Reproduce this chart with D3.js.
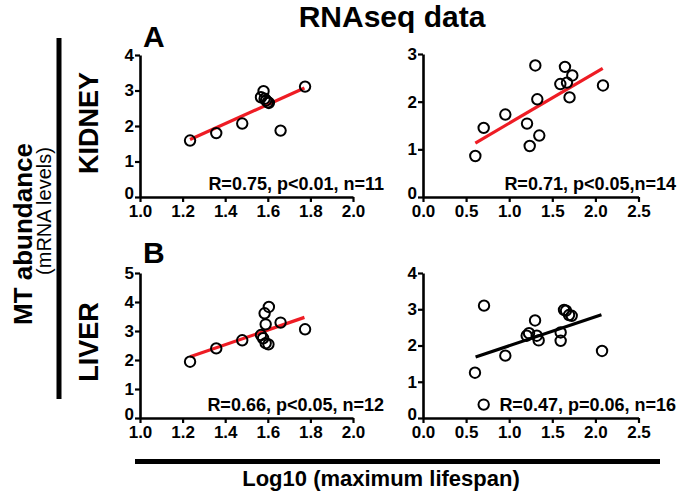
<!DOCTYPE html>
<html><head><meta charset="utf-8">
<script src="https://cdn.jsdelivr.net/npm/d3@7"></script>
<style>body{margin:0;background:#fff}svg{display:block}text{font-family:"Liberation Sans",Arial,sans-serif;font-weight:bold}</style>
</head><body><svg id="c" width="684" height="493"></svg>
<script>
// ---- data ----
const kidneyLeftX  = [1.235,1.358,1.48,1.58,1.568,1.585,1.592,1.60,1.605,1.66,1.775];
const kidneyLeftY  = [1.59,1.80,2.07,2.98,2.81,2.77,2.72,2.67,2.65,1.87,3.11];
const kidneyLeftFit = [[1.235,1.62],[1.772,3.07]];
const kidneyRightX = [0.607,0.704,0.955,1.207,1.238,1.303,1.326,1.349,1.593,1.647,1.67,1.70,1.732,2.088];
const kidneyRightY = [0.86,1.45,1.73,1.54,1.07,2.76,2.05,1.29,2.37,2.73,2.40,2.09,2.55,2.34];
const kidneyRightFit = [[0.607,1.13],[2.085,2.70]];
const liverLeftX  = [1.235,1.358,1.48,1.568,1.578,1.59,1.585,1.605,1.59,1.603,1.66,1.775];
const liverLeftY  = [1.94,2.40,2.68,2.86,2.75,3.23,3.61,3.83,2.58,2.54,3.29,3.06];
const liverLeftFit = [[1.235,2.11],[1.772,3.47]];
const liverRightX = [0.603,0.708,0.704,0.955,1.203,1.23,1.30,1.32,1.342,1.597,1.597,1.636,1.659,1.694,1.725,2.077];
const liverRightY = [1.25,3.10,0.37,1.72,2.27,2.34,2.69,2.27,2.14,2.36,2.13,2.98,2.96,2.84,2.82,1.85];
const liverRightFit = [[0.61,1.68],[2.07,2.85]];
const leftXTicks = [1.0,1.2,1.4,1.6,1.8,2.0];
const rightXTicks = [0,0.5,1.0,1.5,2.0,2.5];
const statsText = ["R=0.75, p<0.01, n=11","R=0.71, p<0.05,n=14","R=0.66, p<0.05, n=12","R=0.47, p=0.06, n=16"];

const svg = d3.select("#c");

function panel(cfg){
  const x = d3.scaleLinear().domain(cfg.xd).range(cfg.xr);
  const y = d3.scaleLinear().domain(cfg.yd).range(cfg.yr);
  const g = svg.append("g");
  const xa = g.append("g").attr("transform",`translate(0,${cfg.yr[0]})`)
    .call(d3.axisBottom(x).tickValues(cfg.xt).tickSize(5).tickSizeOuter(0).tickPadding(3).tickFormat(d3.format(".1f")));
  const ya = g.append("g").attr("transform",`translate(${cfg.xr[0]},0)`)
    .call(d3.axisLeft(y).ticks(cfg.yd[1]).tickSize(5).tickSizeOuter(0).tickPadding(1).tickFormat(d3.format("d")));
  [xa,ya].forEach(a=>{
    a.select(".domain").attr("stroke","#000").attr("stroke-width",2.6);
    a.selectAll(".tick line").attr("stroke","#000").attr("stroke-width",2.2);
    a.selectAll("text").attr("font-size",17).attr("fill","#000").style("font-family","Liberation Sans, Arial").style("font-weight","bold");
  });
  ya.selectAll(".tick").filter(d=>d===0).select("text").attr("dy","0.1em");
  g.append("line")
    .attr("x1",x(cfg.fit[0][0])).attr("y1",y(cfg.fit[0][1]))
    .attr("x2",x(cfg.fit[1][0])).attr("y2",y(cfg.fit[1][1]))
    .attr("stroke",cfg.lineColor).attr("stroke-width",3.2);
  g.selectAll("circle").data(cfg.xs).join("circle")
    .attr("cx",(d)=>x(d)).attr("cy",(d,i)=>y(cfg.ys[i])).attr("r",5.2)
    .attr("fill","none").attr("stroke","#000").attr("stroke-width",2);
  g.append("text").attr("x",cfg.tx).attr("y",cfg.ty).attr("text-anchor","end")
    .attr("font-size",18).text(cfg.text);
}

panel({xd:[1,2],xr:[140,353],yd:[0,4],yr:[197,55],xt:leftXTicks,xs:kidneyLeftX,ys:kidneyLeftY,fit:kidneyLeftFit,lineColor:"#ee1c24",text:statsText[0],tx:384,ty:190});
panel({xd:[0,2.5],xr:[423,638.5],yd:[0,3],yr:[197,54],xt:rightXTicks,xs:kidneyRightX,ys:kidneyRightY,fit:kidneyRightFit,lineColor:"#ee1c24",text:statsText[1],tx:676,ty:190});
panel({xd:[1,2],xr:[140,353],yd:[0,5],yr:[418,273],xt:leftXTicks,xs:liverLeftX,ys:liverLeftY,fit:liverLeftFit,lineColor:"#ee1c24",text:statsText[2],tx:384,ty:411});
panel({xd:[0,2.5],xr:[423,638.5],yd:[0,4],yr:[418,273],xt:rightXTicks,xs:liverRightX,ys:liverRightY,fit:liverRightFit,lineColor:"#000",text:statsText[3],tx:676,ty:411});

// titles & labels
svg.append("text").attr("x",392).attr("y",27).attr("text-anchor","middle").attr("font-size",30).text("RNAseq data");
svg.append("text").attr("x",143).attr("y",47).attr("font-size",30).text("A");
svg.append("text").attr("x",143).attr("y",263).attr("font-size",30).text("B");
svg.append("text").attr("transform","translate(98,123) rotate(-90)").attr("text-anchor","middle").attr("font-size",27).text("KIDNEY");
svg.append("text").attr("transform","translate(98,342) rotate(-90)").attr("text-anchor","middle").attr("font-size",27).text("LIVER");
svg.append("text").attr("transform","translate(32,234) rotate(-90)").attr("text-anchor","middle").attr("font-size",26).text("MT abundance");
svg.append("text").attr("transform","translate(51,211) rotate(-90)").attr("text-anchor","middle").attr("font-size",20).style("font-weight","normal").text("(mRNA levels)");
svg.append("line").attr("x1",59).attr("x2",59).attr("y1",38).attr("y2",399).attr("stroke","#000").attr("stroke-width",5);
svg.append("line").attr("x1",135).attr("x2",660).attr("y1",461.5).attr("y2",461.5).attr("stroke","#000").attr("stroke-width",5);
svg.append("text").attr("x",381).attr("y",486).attr("text-anchor","middle").attr("font-size",22).text("Log10 (maximum lifespan)");
</script></body></html>
